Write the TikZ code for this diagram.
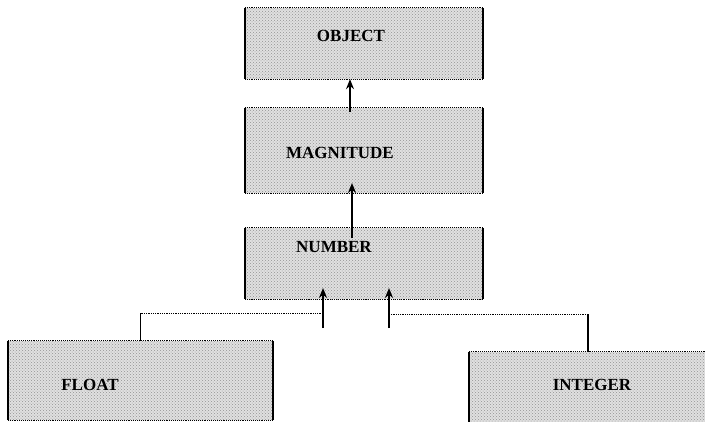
\documentclass[tikz,border=0pt]{standalone}
\usepackage{fontspec}
\setmainfont{Liberation Serif}
\usetikzlibrary{patterns,arrows.meta}
% solid side edges, dotted top and bottom edges of a class box
\newcommand\clsedges[1]{%
  \draw[side] (#1.north west) -- (#1.south west);
  \draw[side] (#1.north east) -- (#1.south east);
  \draw[rim] (#1.north west) -- (#1.north east);
  \draw[rim] (#1.south west) -- (#1.south east);}
\begin{document}
\begin{tikzpicture}[x=1pt,y=-1pt,
  cls/.style={rectangle, inner sep=0pt, fill=gray!24,
    postaction={pattern=crosshatch dots, pattern color=gray!85}},
  lbl/.style={font=\fontsize{17}{19}\selectfont\bfseries, inner sep=0pt},
  side/.style={line width=1.5pt},
  rim/.style={densely dotted, line width=0.9pt},
  arr/.style={line width=1.3pt, -{Stealth[length=10pt,width=8pt]}},
  link/.style={line width=0.8pt, densely dotted},
  drop/.style={line width=1.2pt}]
\useasboundingbox (0,0) rectangle (705,421);
\clip (0,0) rectangle (705,421);

% class boxes
\node[cls, minimum width=238pt, minimum height=71pt] (obj) at (364,43.5) {};
\node[cls, minimum width=238pt, minimum height=85pt] (mag) at (364,150.5) {};
\node[cls, minimum width=238pt, minimum height=71pt] (num) at (364,263.5) {};
\node[cls, minimum width=265pt, minimum height=79pt] (flt) at (140.5,380.5) {};
\node[cls, minimum width=238pt, minimum height=76pt] (intg) at (588,390) {};
\clsedges{obj}\clsedges{mag}\clsedges{num}\clsedges{flt}\clsedges{intg}

% class names
\node[lbl] (objT) at (351,36) {OBJECT};
\node[lbl] (magT) at (340,153) {MAGNITUDE};
\node[lbl] (numT) at (334,247) {NUMBER};
\node[lbl] (fltT) at (90,385) {FLOAT};
\node[lbl] (intT) at (592,385) {INTEGER};

% inheritance arrows up the chain
\coordinate (m1) at (350,112);
\draw[arr] (m1) -- (m1 |- obj.south);
\coordinate (n1) at (352,238);
\coordinate (n2) at (352,183);
\draw[arr] (n1) -- (n2);

% FLOAT branch
\coordinate (fLow) at (323,328);
\coordinate (fUp) at (323,288);
\coordinate (fJ) at (323,313);
\coordinate (fK) at (fJ -| flt.north);
\draw[arr] (fLow) -- (fUp);
\draw[link] (fJ) -- (fK);
\draw[drop] (fK) -- (flt.north);

% INTEGER branch
\coordinate (iLow) at (389,328);
\coordinate (iUp) at (389,288);
\coordinate (iJ) at (389,314);
\coordinate (iK) at (iJ -| intg.north);
\draw[arr] (iLow) -- (iUp);
\draw[link] (iJ) -- (iK);
\draw[drop] (iK) -- (intg.north);
\end{tikzpicture}
\end{document}
